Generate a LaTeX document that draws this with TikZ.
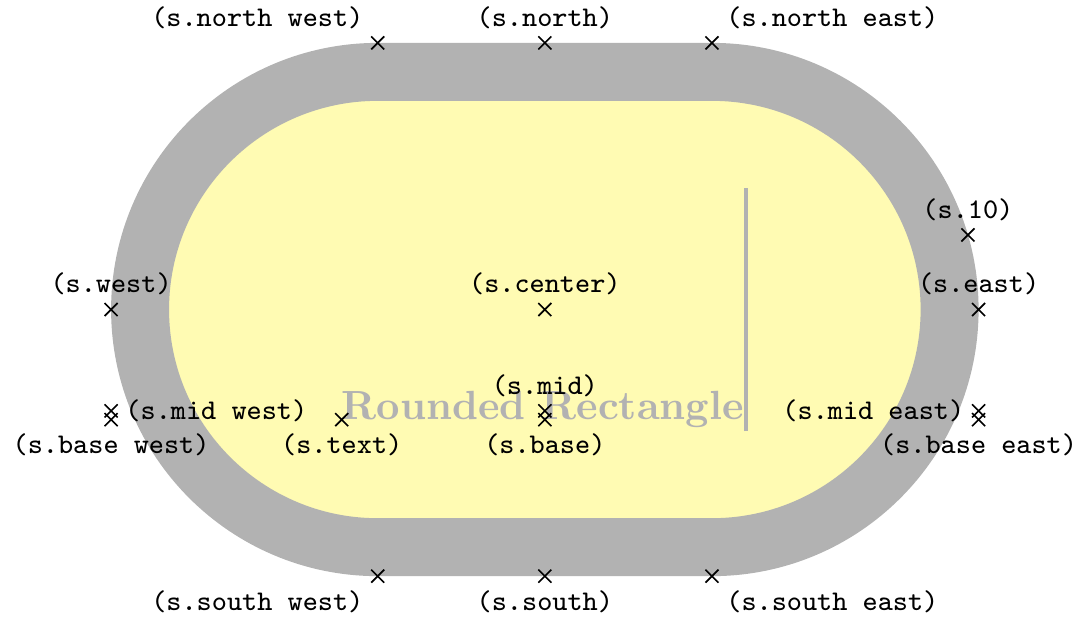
\documentclass[tikz,border=0pt]{standalone}
\usetikzlibrary{shapes.misc}
\tikzset{shape example/.style={color=black!30,draw,fill=yellow!30,line width=.5cm},
 lbl/.style={font=\scriptsize\ttfamily}}
\newcommand{\xmark}[1]{\draw[black,line width=0.4pt] ([shift={(-1.6pt,-1.6pt)}]#1) -- ([shift={(1.6pt,1.6pt)}]#1) ([shift={(-1.6pt,1.6pt)}]#1) -- ([shift={(1.6pt,-1.6pt)}]#1);}
\begin{document}
\begin{tikzpicture}
\useasboundingbox (-4.70,-2.70) rectangle (4.72,2.67);
\node[name=s,shape=rounded rectangle,shape example,inner xsep=1.45cm,inner ysep=1cm,font=\normalsize\bfseries] at (0,0) {Rounded Rectangle\vrule width 1pt height 2cm depth 0.1cm};
\xmark{s.north west}\node[lbl,above left] (l1) at (s.north west) {(s.north west)};
\xmark{s.north}\node[lbl,above] (l2) at (s.north) {(s.north)};
\xmark{s.north east}\node[lbl,above right] (l3) at (s.north east) {(s.north east)};
\xmark{s.west}\node[lbl,above] (l4) at (s.west) {(s.west)};
\xmark{s.center}\node[lbl,above] (l5) at (s.center) {(s.center)};
\xmark{s.east}\node[lbl,above] (l6) at (s.east) {(s.east)};
\xmark{s.mid west}\node[lbl,right] (l7) at (s.mid west) {(s.mid west)};
\xmark{s.mid}\node[lbl,above] (l8) at (s.mid) {(s.mid)};
\xmark{s.mid east}\node[lbl,left] (l9) at (s.mid east) {(s.mid east)};
\xmark{s.base west}\node[lbl,below] (l10) at (s.base west) {(s.base west)};
\xmark{s.base}\node[lbl,below] (l11) at (s.base) {(s.base)};
\xmark{s.base east}\node[lbl,below] (l12) at (s.base east) {(s.base east)};
\xmark{s.south west}\node[lbl,below left] (l13) at (s.south west) {(s.south west)};
\xmark{s.south}\node[lbl,below] (l14) at (s.south) {(s.south)};
\xmark{s.south east}\node[lbl,below right] (l15) at (s.south east) {(s.south east)};
\xmark{s.text}\node[lbl,below] (l16) at (s.text) {(s.text)};
\xmark{s.10}\node[lbl,above] (l17) at (s.10) {(s.10)};
\end{tikzpicture}
\end{document}
